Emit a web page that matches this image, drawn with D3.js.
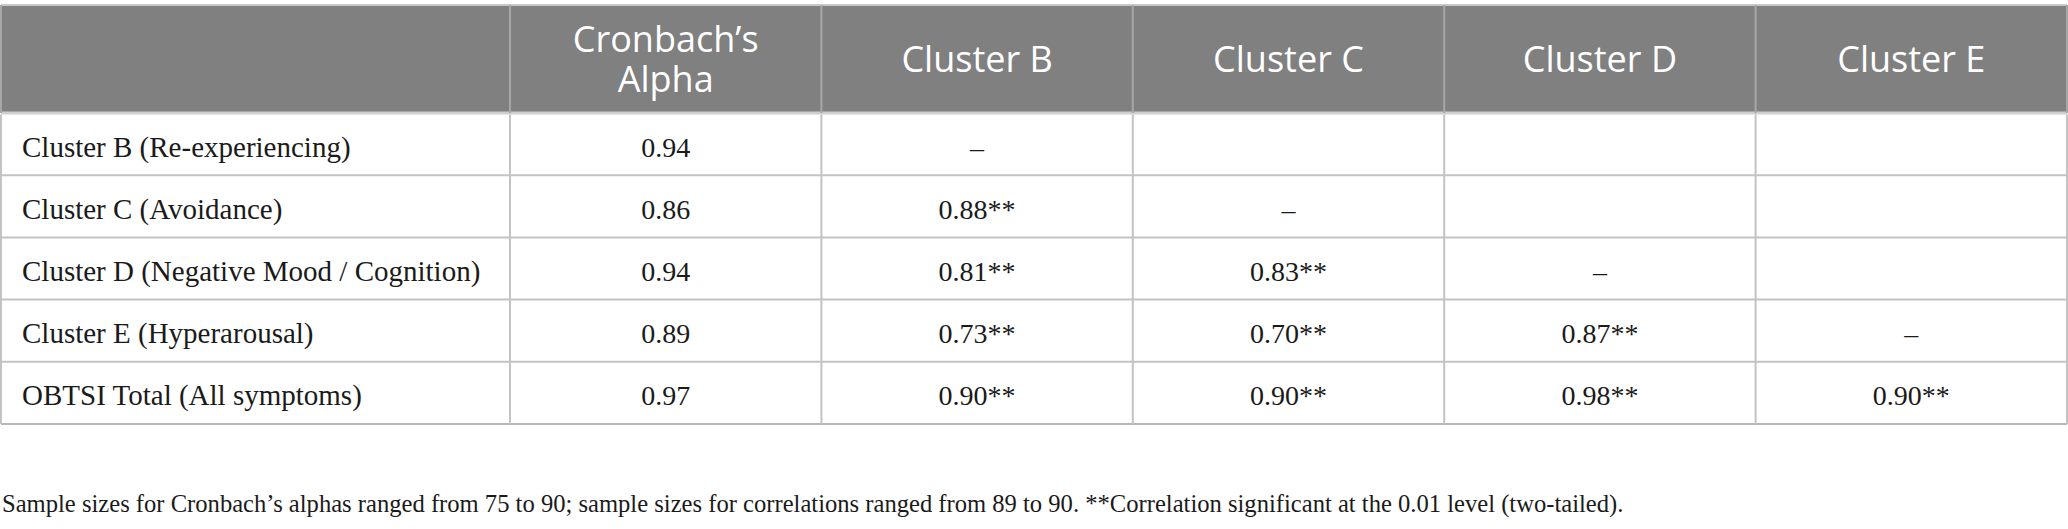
<!DOCTYPE html>
<html>
<head>
<meta charset="utf-8" />
<script src="https://cdn.jsdelivr.net/npm/d3@7"></script>
<style>
  body { margin: 0; background: #fff; }
</style>
</head>
<body>
<script>
    // table content
    var rowLabels = [
        'Cluster B (Re-experiencing)',
        'Cluster C (Avoidance)',
        'Cluster D (Negative Mood / Cognition)',
        'Cluster E (Hyperarousal)',
        'OBTSI Total (All symptoms)'
    ];
    var headerLabels = [['Cronbach\u2019s', 'Alpha'], ['Cluster B'], ['Cluster C'], ['Cluster D'], ['Cluster E']];
    var alphas = [0.94, 0.86, 0.94, 0.89, 0.97];
    // lower-triangle correlations, null = dash on the diagonal
    var corrB = [null, 0.88, 0.81, 0.73, 0.90];
    var corrC = [undefined, null, 0.83, 0.70, 0.90];
    var corrD = [undefined, undefined, null, 0.87, 0.98];
    var corrE = [undefined, undefined, undefined, null, 0.90];
    var sigMark = '**';
    var footnote = 'Sample sizes for Cronbach\u2019s alphas ranged from 75 to 90; sample sizes for correlations ranged from 89 to 90. **Correlation significant at the 0.01 level (two-tailed).';

    var width = 2068;
    var height = 529;
    var table = { left: 1, right: 2067, top: 5, headBottom: 113, bottom: 424, firstCol: 510 };

    var svg = d3.select('body')
        .append('svg')
        .attr('width', width)
        .attr('height', height)
        .style('background', '#ffffff');

    var colKeys = d3.range(headerLabels.length);
    var x = d3.scaleBand().domain(colKeys).range([table.firstCol, table.right]);
    var y = d3.scaleBand().domain(rowLabels).range([table.headBottom, table.bottom]);

    // header background
    svg.append('rect')
        .attr('x', table.left)
        .attr('y', table.top)
        .attr('width', table.right - table.left)
        .attr('height', table.headBottom - table.top)
        .attr('fill', '#7f807f');

    // header labels, one text per line
    var headLines = [];
    headerLabels.forEach(function (lines, c) {
        lines.forEach(function (t, i) {
            headLines.push({ c: c, t: t, i: i, n: lines.length });
        });
    });
    svg.selectAll('text.head')
        .data(headLines)
        .enter()
        .append('text')
        .attr('class', 'head')
        .attr('x', function (d) { return x(d.c) + x.bandwidth() / 2; })
        .attr('y', function (d) {
            var mid = (table.top + table.headBottom) / 2;
            return mid + 13 + (d.i - (d.n - 1) / 2) * 40;
        })
        .attr('font-family', '"Open Sans", sans-serif')
        .attr('font-size', 36)
        .attr('fill', '#ffffff')
        .attr('text-anchor', 'middle')
        .text(function (d) { return d.t; });

    // body grid lines
    var gridColor = '#c3c3c3';
    svg.selectAll('line.h')
        .data(rowLabels.slice(1))
        .enter()
        .append('line')
        .attr('x1', table.left).attr('x2', table.right)
        .attr('y1', function (d) { return y(d); })
        .attr('y2', function (d) { return y(d); })
        .attr('stroke', gridColor)
        .attr('stroke-width', 2);
    svg.append('line')
        .attr('x1', table.left).attr('x2', table.right)
        .attr('y1', table.bottom).attr('y2', table.bottom)
        .attr('stroke', '#b8b8b8').attr('stroke-width', 2);
    svg.append('line')
        .attr('x1', table.left).attr('x2', table.right)
        .attr('y1', table.headBottom).attr('y2', table.headBottom)
        .attr('stroke', '#cfcfcf').attr('stroke-width', 3);
    svg.append('line')
        .attr('x1', table.left).attr('x2', table.right)
        .attr('y1', table.top).attr('y2', table.top)
        .attr('stroke', '#c8c8c8').attr('stroke-width', 2);

    var vx = [table.left].concat(colKeys.map(function (k) { return x(k); }), [table.right]);
    svg.selectAll('line.vh')
        .data(vx)
        .enter()
        .append('line')
        .attr('x1', function (d) { return d; })
        .attr('x2', function (d) { return d; })
        .attr('y1', table.top).attr('y2', table.headBottom)
        .attr('stroke', '#a6a6a6').attr('stroke-width', 2);
    svg.selectAll('line.vb')
        .data(vx)
        .enter()
        .append('line')
        .attr('x1', function (d) { return d; })
        .attr('x2', function (d) { return d; })
        .attr('y1', table.headBottom + 1.5).attr('y2', table.bottom)
        .attr('stroke', gridColor).attr('stroke-width', 2);

    // row labels
    var serif = '"Liberation Serif", "Times New Roman", serif';
    svg.selectAll('text.row')
        .data(rowLabels)
        .enter()
        .append('text')
        .attr('x', 22)
        .attr('y', function (d) { return y(d) + y.bandwidth() / 2 + 12.5; })
        .attr('font-family', serif)
        .attr('font-size', 29)
        .attr('fill', '#1a1a1a')
        .text(function (d) { return d; });

    // cells
    var fmt = d3.format('.2f');
    var columnsData = [alphas, corrB, corrC, corrD, corrE];
    var cells = [];
    columnsData.forEach(function (col, c) {
        col.forEach(function (v, r) {
            if (v === undefined) return;
            var txt;
            if (v === null) txt = '\u2013';
            else if (c === 0) txt = fmt(v);
            else txt = fmt(v) + sigMark;
            cells.push({ c: c, r: rowLabels[r], t: txt });
        });
    });
    svg.selectAll('text.cell')
        .data(cells)
        .enter()
        .append('text')
        .attr('x', function (d) { return x(d.c) + x.bandwidth() / 2; })
        .attr('y', function (d) { return y(d.r) + y.bandwidth() / 2 + 12.5; })
        .attr('text-anchor', 'middle')
        .attr('font-family', serif)
        .attr('font-size', 28)
        .attr('fill', '#1a1a1a')
        .text(function (d) { return d.t; });

    // footnote
    svg.append('text')
        .attr('x', 2)
        .attr('y', 512)
        .attr('font-family', serif)
        .attr('font-size', 24.6)
        .attr('fill', '#1a1a1a')
        .text(footnote);
</script>
</body>
</html>
